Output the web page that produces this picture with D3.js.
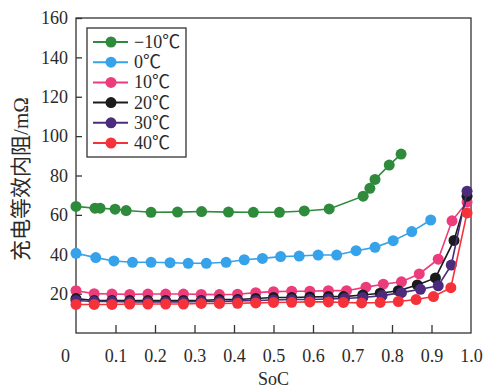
<!DOCTYPE html>
<html>
<head>
<meta charset="utf-8">
<script src="https://cdn.jsdelivr.net/npm/d3@7/dist/d3.min.js"></script>
<style>
  html, body { margin: 0; padding: 0; background: #ffffff; }
  svg { display: block; }
</style>
</head>
<body>
<svg id="chart" width="488" height="391"></svg>
<script>
// Charging equivalent internal resistance (mΩ) vs state of charge, per temperature
const seriesNames = ["\u221210\u2103", "0\u2103", "10\u2103", "20\u2103", "30\u2103", "40\u2103"];
const seriesColors = ["#2f8b3c", "#36a2ea", "#ec3c7b", "#1b1b1b", "#4a2b7c", "#f5323a"];

const socM10 = [0.0, 0.048, 0.061, 0.099, 0.127, 0.19, 0.257, 0.318, 0.386, 0.449, 0.515, 0.578, 0.641, 0.727, 0.744, 0.757, 0.793, 0.823];
const resM10 = [64.3, 63.4, 63.4, 62.9, 62.2, 61.3, 61.4, 61.7, 61.4, 61.3, 61.3, 62.0, 63.0, 69.5, 73.5, 78.0, 85.3, 90.9];

const soc0 = [0.0, 0.05, 0.096, 0.143, 0.19, 0.238, 0.284, 0.33, 0.38, 0.426, 0.472, 0.518, 0.565, 0.613, 0.66, 0.709, 0.757, 0.803, 0.85, 0.898];
const res0 = [40.5, 38.3, 36.6, 35.9, 35.9, 35.7, 35.4, 35.4, 35.9, 37.2, 37.9, 38.8, 39.1, 39.6, 39.6, 41.8, 43.5, 46.9, 51.5, 57.4];

const soc10 = [0.0, 0.046, 0.091, 0.136, 0.182, 0.227, 0.272, 0.317, 0.363, 0.409, 0.455, 0.5, 0.546, 0.592, 0.639, 0.685, 0.734, 0.778, 0.824, 0.869, 0.917, 0.952, 0.99];
const res10 = [21.5, 20.0, 19.8, 19.6, 19.8, 19.8, 19.8, 19.6, 19.5, 19.7, 20.5, 21.0, 21.2, 21.2, 21.5, 21.5, 23.3, 24.8, 26.0, 30.0, 37.5, 57.0, 66.5];

const soc20 = [0.0, 0.046, 0.091, 0.136, 0.182, 0.227, 0.272, 0.317, 0.363, 0.409, 0.455, 0.5, 0.546, 0.592, 0.639, 0.677, 0.726, 0.77, 0.816, 0.864, 0.91, 0.957, 0.99];
const res20 = [17.5, 16.5, 16.5, 16.5, 16.5, 16.5, 16.5, 16.5, 17.0, 17.0, 17.5, 18.0, 18.0, 18.3, 18.5, 18.5, 19.3, 20.2, 21.5, 24.4, 28.0, 47.0, 69.5];

const soc30 = [0.0, 0.046, 0.091, 0.136, 0.182, 0.227, 0.272, 0.317, 0.363, 0.409, 0.455, 0.5, 0.546, 0.592, 0.639, 0.68, 0.726, 0.775, 0.824, 0.872, 0.917, 0.95, 0.99];
const res30 = [16.5, 16.0, 16.0, 15.8, 15.8, 15.8, 15.8, 16.0, 16.0, 16.3, 16.5, 16.8, 17.0, 17.0, 17.3, 17.5, 18.0, 19.0, 20.5, 22.2, 24.0, 34.5, 72.0];

const soc40 = [0.0, 0.046, 0.091, 0.136, 0.182, 0.227, 0.272, 0.317, 0.363, 0.409, 0.455, 0.5, 0.546, 0.592, 0.639, 0.677, 0.723, 0.77, 0.816, 0.861, 0.905, 0.949, 0.99];
const res40 = [14.5, 14.5, 14.5, 14.7, 14.7, 14.7, 14.7, 15.0, 15.0, 15.1, 15.3, 15.5, 15.6, 15.8, 15.8, 15.5, 15.3, 15.5, 16.0, 17.0, 18.5, 23.0, 61.0];

const xTicks = [0, 0.1, 0.2, 0.3, 0.4, 0.5, 0.6, 0.7, 0.8, 0.9, 1.0];
const yTicks = [20, 40, 60, 80, 100, 120, 140, 160];

const seriesSoc = [socM10, soc0, soc10, soc20, soc30, soc40];
const seriesRes = [resM10, res0, res10, res20, res30, res40];

const svg = d3.select("#chart");
const plotLeft = 76, plotRight = 471, plotTop = 18, plotBottom = 333;

const x = d3.scaleLinear().domain([0, 1.0]).range([plotLeft, plotRight]);
const y = d3.scaleLinear().domain([0, 160]).range([plotBottom, plotTop]);

const axisColor = "#333";
const serif = "'Liberation Serif', 'Times New Roman', serif";

// Frame
svg.append("rect")
  .attr("x", plotLeft).attr("y", plotTop)
  .attr("width", plotRight - plotLeft).attr("height", plotBottom - plotTop)
  .attr("fill", "none").attr("stroke", axisColor).attr("stroke-width", 1.3);

// X axis with inward ticks
const gx = svg.append("g")
  .attr("transform", `translate(0,${plotBottom})`)
  .call(d3.axisBottom(x).tickValues(xTicks).tickSize(-8).tickPadding(16)
    .tickFormat(d => d === 0 ? "0" : d3.format(".1f")(d)));
gx.attr("font-family", serif);
gx.select(".domain").remove();
gx.selectAll(".tick line").attr("stroke", axisColor).attr("stroke-width", 1.3)
  .attr("display", d => (d === 0 || d === 1) ? "none" : null);
gx.selectAll(".tick text")
  .attr("fill", "#2a2a2a").attr("font-size", 18).attr("font-family", serif)
  .attr("dx", d => d === 0 ? -11 : 0);

// Y axis with inward ticks
const gy = svg.append("g")
  .attr("transform", `translate(${plotLeft},0)`)
  .call(d3.axisLeft(y).tickValues(yTicks).tickSize(-6).tickPadding(8));
gy.attr("font-family", serif);
gy.select(".domain").remove();
gy.selectAll(".tick line").attr("stroke", axisColor).attr("stroke-width", 1.3);
gy.selectAll(".tick text")
  .attr("fill", "#2a2a2a").attr("font-size", 18).attr("font-family", serif);

// Axis titles
svg.append("text")
  .attr("x", (plotLeft + plotRight) / 2).attr("y", 385)
  .attr("text-anchor", "middle")
  .attr("font-family", serif).attr("font-size", 18).attr("fill", "#2a2a2a")
  .text("SoC");

svg.append("text")
  .attr("transform", `translate(28,179) rotate(-90)`)
  .attr("text-anchor", "middle")
  .attr("font-family", "'Liberation Serif', 'Noto Sans CJK SC', serif")
  .attr("font-size", 21).attr("fill", "#2a2a2a")
  .text("充电等效内阻/mΩ");

// Series: line then markers
const line = d3.line().x(d => x(d[0])).y(d => y(d[1]));
seriesNames.forEach((name, i) => {
  const pts = seriesSoc[i].map((s, k) => [s, seriesRes[i][k]]);
  const g = svg.append("g");
  g.append("path").datum(pts)
    .attr("d", line).attr("fill", "none")
    .attr("stroke", seriesColors[i]).attr("stroke-width", 1.6);
  g.selectAll("circle").data(pts).join("circle")
    .attr("cx", d => x(d[0])).attr("cy", d => y(d[1]))
    .attr("r", 5.5).attr("fill", seriesColors[i]);
});

// Legend
const lg = svg.append("g");
lg.append("rect")
  .attr("x", 87).attr("y", 28).attr("width", 99).attr("height", 129)
  .attr("fill", "#ffffff").attr("stroke", axisColor).attr("stroke-width", 1.3);
seriesNames.forEach((name, i) => {
  const cy = 42 + i * 20.2;
  lg.append("line")
    .attr("x1", 93).attr("x2", 128).attr("y1", cy).attr("y2", cy)
    .attr("stroke", seriesColors[i]).attr("stroke-width", 2);
  lg.append("circle").attr("cx", 111).attr("cy", cy).attr("r", 5.5)
    .attr("fill", seriesColors[i]);
  lg.append("text")
    .attr("x", 134).attr("y", cy + 6)
    .attr("font-family", "'Liberation Serif', 'Noto Sans CJK SC', serif")
    .attr("font-size", 18).attr("fill", "#2a2a2a")
    .text(name);
});
</script>
</body>
</html>
